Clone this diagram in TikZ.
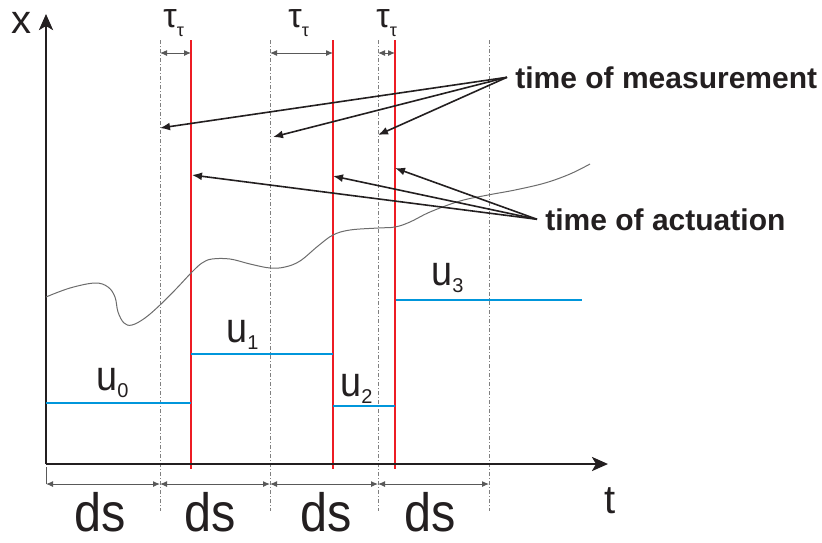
\documentclass[tikz,border=0pt]{standalone}
\usepackage{fontspec}
\setmainfont{Liberation Sans}
\usetikzlibrary{arrows.meta}
\definecolor{actred}{RGB}{237,28,36}
\definecolor{ctrlblue}{RGB}{0,150,219}
\definecolor{ink}{RGB}{35,31,32}
\tikzset{
    axis/.style={ink,line width=1.3pt,-{Stealth[length=8pt,width=7pt,inset=2pt]}},
    act/.style={actred,line width=1pt},
    ctrl/.style={ctrlblue,line width=1.3pt},
    guide/.style={gray,line width=0.4pt,dash pattern=on 2pt off 1pt on 0.5pt off 1pt},
    dim/.style={gray!70!black,line width=0.5pt,{Latex[length=3.5pt,width=3pt]}-{Latex[length=3.5pt,width=3pt]}},
    arrow/.style={ink,line width=0.8pt,-{Latex[length=5pt,width=4pt]}},
    lbl/.style={font=\fontsize{15}{18}\selectfont\bfseries,text=ink,inner sep=0pt,inner xsep=4pt,anchor=base west},
    big/.style={text=ink,inner sep=0pt,anchor=base}
}
\newcommand{\usub}[1]{\scalebox{0.9}[1]{u}\raisebox{-3.5pt}{\fontsize{10}{10}\selectfont #1}}
\newcommand{\tausub}{{\fontsize{17}{17}\selectfont τ}\raisebox{-4.5pt}{\fontsize{9}{9}\selectfont τ}}

\begin{document}
\begin{tikzpicture}[x=0.5pt,y=-0.5pt]
    \useasboundingbox (0,0) rectangle (822,542);

    % sampling grid and actuation instants
    \foreach \g in {160,270,378,489} {\draw[guide] (\g,40) -- (\g,511);}
    \foreach \r in {191,333,395} {\draw[act] (\r,40) -- (\r,469);}

    % axes
    \coordinate (O) at (46,464);
    \coordinate (xtop) at (46,14);
    \coordinate (tend) at (608,464);
    \draw[axis] (O) -- (xtop);
    \draw[axis] (O) -- (tend);
    \node[big,font=\fontsize{20}{22}\selectfont] (xlab) at (21,33) {x};
    \node[big,font=\fontsize{20}{22}\selectfont] (tlab) at (610,513) {t};

    % process output
    \draw[gray!85!black,line width=0.5pt] plot[smooth,tension=0.6] coordinates {
        (46,297) (70,288) (95,283) (108,287) (115,297) (118,312) (124,323)
        (132,325) (145,318) (160,305) (176,289) (192,272) (202,263) (212,259)
        (230,259) (250,264) (270,268) (285,267) (300,261) (318,246) (333,235)
        (350,230) (378,228) (395,227) (410,222) (430,212) (460,201) (488,195)
        (515,190) (545,183) (570,174) (590,164)};

    % control steps
    \draw[ctrl] (46,403) -- (191,403);
    \draw[ctrl] (191,354) -- (333,354);
    \draw[ctrl] (333,406) -- (395,406);
    \draw[ctrl] (396,300) -- (582,300);
    \node[big,anchor=base west,font=\fontsize{21}{24}\selectfont] (u0) at (96,390) {\usub{0}};
    \node[big,anchor=base west,font=\fontsize{21}{24}\selectfont] (u1) at (226,342) {\usub{1}};
    \node[big,anchor=base west,font=\fontsize{21}{24}\selectfont] (u2) at (340,396) {\usub{2}};
    \node[big,anchor=base west,font=\fontsize{21}{24}\selectfont] (u3) at (431,285) {\usub{3}};

    % delays
    \foreach \a/\b in {160/191,270/333,378/395} {\draw[dim] (\a,53) -- (\b,53);}
    \node[big,anchor=base west] (tau1) at (163,27) {\tausub};
    \node[big,anchor=base west] (tau2) at (288,27) {\tausub};
    \node[big,anchor=base west] (tau3) at (376,27) {\tausub};

    % sampling periods
    \draw[gray!70!black,line width=0.4pt] (46,467) -- (46,484);
    \foreach \a/\b in {46/160,160/270,270/378,378/489} {\draw[dim] (\a,484) -- (\b,484);}
    \foreach \c in {100,210,326,430} {\node[big,font=\fontsize{27}{29}\selectfont,xscale=0.9] at (\c,531) {ds};}

    % annotations
    \node[lbl] (meas) at (507,88) {time of measurement};
    \node[lbl] (actu) at (537,230) {time of actuation};
    \coordinate (m1) at (160,128);
    \coordinate (m2) at (273,137);
    \coordinate (m3) at (378,135);
    \coordinate (a1) at (192,175);
    \coordinate (a2) at (333,176);
    \coordinate (a3) at (395,168);
    \foreach \m in {m1,m2,m3} {\draw[arrow] (meas.west) -- (\m);}
    \foreach \a in {a1,a2,a3} {\draw[arrow] (actu.west) -- (\a);}
\end{tikzpicture}
\end{document}
